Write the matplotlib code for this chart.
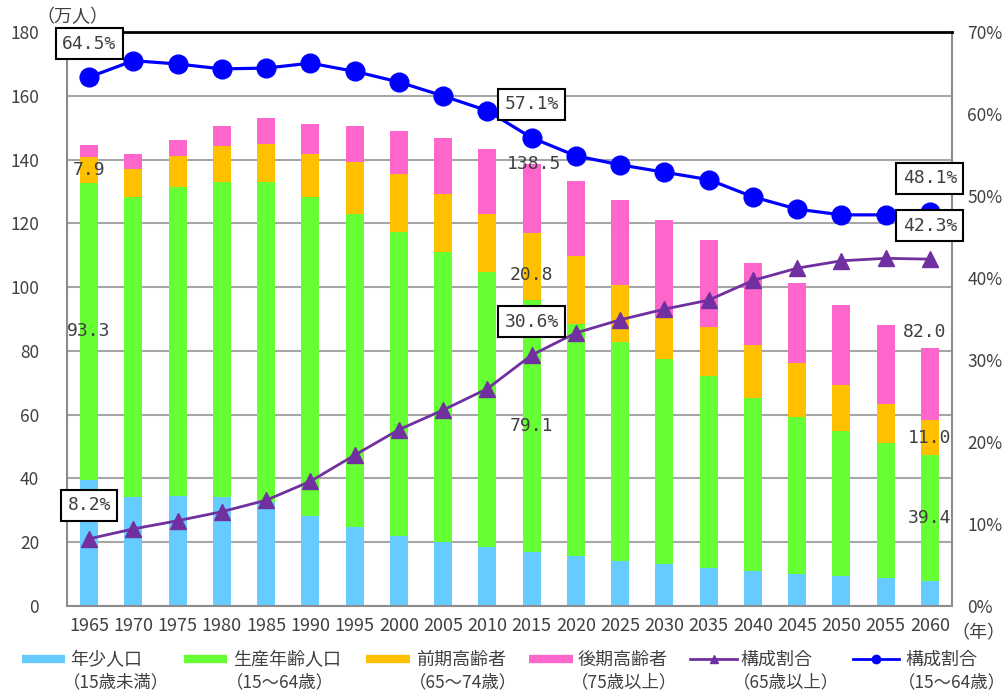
import matplotlib
matplotlib.use('Agg')

import matplotlib.pyplot as plt
import numpy as np
from matplotlib.lines import Line2D

plt.rcParams['font.family'] = ['Noto Sans CJK JP', 'DejaVu Sans']

# 年次
years = [1965, 1970, 1975, 1980, 1985, 1990, 1995, 2000, 2005, 2010,
         2015, 2020, 2025, 2030, 2035, 2040, 2045, 2050, 2055, 2060]

# 人口（万人）
young = [39.5, 34.1, 34.6, 34.1, 32.5, 28.2, 24.7, 22.0, 20.2, 18.4,
         17.0, 15.7, 14.2, 13.2, 11.8, 11.1, 10.0, 9.4, 8.7, 7.9]
working = [93.3, 94.3, 96.7, 98.9, 100.5, 100.0, 98.2, 95.2, 90.9, 86.4,
           79.1, 72.7, 68.7, 64.2, 60.3, 54.0, 49.4, 45.6, 42.3, 39.4]
early_old = [7.9, 8.7, 9.7, 11.2, 11.9, 13.5, 16.4, 18.3, 18.0, 18.0,
             20.8, 21.5, 17.8, 13.1, 15.3, 16.7, 16.7, 14.3, 12.3, 11.0]
late_old = [3.9, 4.6, 5.2, 6.2, 8.0, 9.4, 11.1, 13.5, 17.7, 20.4,
            21.6, 23.5, 26.6, 30.7, 27.4, 25.9, 25.1, 25.1, 24.8, 22.5]

# 構成割合（%）
share_65 = [8.2, 9.4, 10.4, 11.5, 12.9, 15.2, 18.4, 21.5, 23.9, 26.5,
            30.6, 33.3, 34.9, 36.2, 37.3, 39.7, 41.2, 42.1, 42.4, 42.3]
share_1564 = [64.5, 66.5, 66.1, 65.5, 65.6, 66.2, 65.2, 63.9, 62.2, 60.4,
              57.1, 54.9, 53.8, 52.9, 52.0, 49.9, 48.4, 47.7, 47.7, 48.1]

# 数値ラベルを付ける年
note_years = [1965, 2015, 2060]
total_notes = {2015: '138.5', 2060: '82.0'}

c_young = '#66CCFF'
c_work = '#66FF33'
c_early = '#FFC000'
c_late = '#FF66CC'
c_purple = '#7030A0'
c_blue = '#0000FF'
txt = '#404040'

fig = plt.figure(figsize=(10.05, 6.95), dpi=100)
ax = fig.add_axes([67 / 1005, 89 / 695, 885 / 1005, 574 / 695])

x = np.arange(len(years))
w = 0.41
b1 = np.array(young)
b2 = b1 + np.array(working)
b3 = b2 + np.array(early_old)
ax.bar(x, young, w, color=c_young)
ax.bar(x, working, w, bottom=b1, color=c_work)
ax.bar(x, early_old, w, bottom=b2, color=c_early)
ax.bar(x, late_old, w, bottom=b3, color=c_late)

ax.set_xlim(-0.5, len(years) - 0.5)
ax.set_ylim(0, 180)
ax.set_yticks(range(0, 181, 20))
ax.set_xticks(x)
ax.set_xticklabels([str(y) for y in years])
ax.yaxis.grid(True, color='#a6a6a6', lw=1.5)
ax.set_axisbelow(True)
ax.tick_params(axis='y', length=0, labelsize=12.5, labelcolor=txt, pad=20)
ax.tick_params(axis='x', length=0, labelsize=13, labelcolor=txt, pad=8)
for s in ['left', 'right', 'bottom']:
    ax.spines[s].set_color('#8c8c8c')
    ax.spines[s].set_linewidth(1.5)
ax.spines['top'].set_color('black')
ax.spines['top'].set_linewidth(2)

ax2 = ax.twinx()
ax2.set_ylim(0, 70)
ax2.set_yticks(range(0, 71, 10))
ax2.set_yticklabels([f'{v}%' for v in range(0, 71, 10)])
ax2.tick_params(axis='y', length=0, labelsize=12.5, labelcolor=txt, pad=11)
for s in ax2.spines.values():
    s.set_visible(False)

ax2.plot(x, share_65, color=c_purple, lw=2, marker='^', ms=12, zorder=3)
ax2.plot(x, share_1564, color=c_blue, lw=2.3, marker='o', ms=13.5, zorder=3)

# 割合の吹き出し
box = dict(boxstyle='square,pad=0.35', fc='white', ec='black', lw=1.5)
for yr in note_years:
    i = years.index(yr)
    for ser in (share_1564, share_65):
        ax2.annotate(f'{ser[i]}%', (i, ser[i]), xytext=(0, 24),
                     textcoords='offset points', ha='center', va='center',
                     family='DejaVu Sans Mono', fontsize=13, color=txt,
                     bbox=box, zorder=6, annotation_clip=False)

# 人口の数値
mono = dict(family='DejaVu Sans Mono', fontsize=13, color=txt, zorder=5,
            ha='center', va='center', transform=ax.transData)
for yr in note_years:
    i = years.index(yr)
    ax2.text(i, (b1[i] + b2[i]) / 2, f'{working[i]}', **mono)
    dy = -6.5 if yr == 2015 else 0
    ax2.annotate(f'{early_old[i]}', ((i, (b2[i] + b3[i]) / 2)),
                 xycoords=ax.transData, xytext=(0, dy),
                 textcoords='offset points', ha='center', va='center',
                 family='DejaVu Sans Mono', fontsize=13, color=txt, zorder=5)
for yr, lab in total_notes.items():
    i = years.index(yr)
    top = b3[i] + late_old[i]
    dy = 12 if yr == 2060 else 0
    dx = -4 if yr == 2060 else 2
    bb = dict(boxstyle='square,pad=0.1', fc='white', ec='none') if yr == 2060 else None
    ax2.annotate(lab, (i, top), xycoords=ax.transData, xytext=(dx, dy),
                 textcoords='offset points', ha='center', va='center',
                 family='DejaVu Sans Mono', fontsize=13, color=txt, zorder=5,
                 bbox=bb, annotation_clip=False)

fig.text(72 / 1005, 1 - 17 / 695, '（万人）', ha='center', va='center',
         fontsize=13, color=txt)
fig.text(978 / 1005, 1 - 633 / 695, '（年）', ha='center', va='center',
         fontsize=13, color=txt)

# 凡例
legend_items = [
    ('bar', c_young, '年少人口', '（15歳未満）', 22, 65, 70),
    ('bar', c_work, '生産年齢人口', '（15～64歳）', 184, 227, 233),
    ('bar', c_early, '前期高齢者', '（65～74歳）', 366, 410, 416),
    ('bar', c_late, '後期高齢者', '（75歳以上）', 529, 573, 578),
    ('^', c_purple, '構成割合', '（65歳以上）', 690, 737, 740),
    ('o', c_blue, '構成割合', '（15～64歳）', 853, 899, 905),
]
for kind, col, l1, l2, h0, h1, t0 in legend_items:
    yy = 1 - 659 / 695
    if kind == 'bar':
        fig.add_artist(Line2D([h0 / 1005, h1 / 1005], [yy, yy], color=col,
                              lw=6, solid_capstyle='butt'))
    else:
        fig.add_artist(Line2D([h0 / 1005, h1 / 1005], [yy, yy], color=col,
                              lw=2))
        fig.add_artist(Line2D([(h0 + h1) / 2010], [yy], color=col,
                              marker=kind, ms=6))
    fig.text(t0 / 1005, 1 - 660 / 695, l1, ha='left', va='center',
             fontsize=13, color=txt)
    fig.text((t0 - 7) / 1005, 1 - 682 / 695, l2, ha='left', va='center',
             fontsize=12.5, color=txt)

fig.savefig('out.png', dpi=100)
